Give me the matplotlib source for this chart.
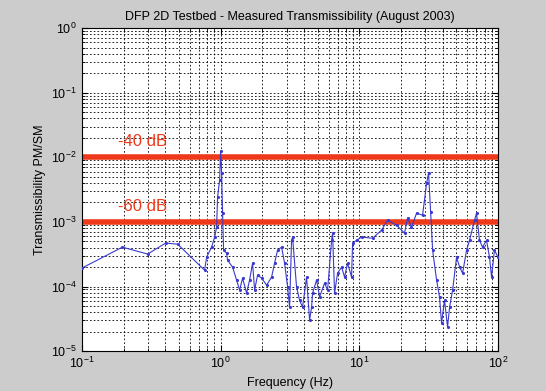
import matplotlib
matplotlib.use("Agg")
import matplotlib.pyplot as plt
from matplotlib.ticker import LogLocator, NullFormatter

plt.rcParams['font.family'] = ['Liberation Sans', 'DejaVu Sans']

title = "DFP 2D Testbed - Measured Transmissibility (August 2003)"
xlabel = "Frequency (Hz)"
ylabel = "Transmissibility PM/SM"

freq = [0.10, 0.196, 0.298, 0.401, 0.490, 0.767, 0.793, 0.861, 0.906, 0.936,
        0.951, 0.984, 1.0, 1.017, 1.034, 1.051, 1.105,
        1.123, 1.220, 1.304, 1.371, 1.441, 1.540, 1.619, 1.701, 1.759, 1.848,
        1.975, 2.147, 2.332, 2.451, 2.576, 2.754, 2.894, 3.042, 3.144, 3.250,
        3.304, 3.531, 3.711, 3.901, 4.169, 4.383, 4.530, 4.606, 4.922, 5.174,
        5.622, 5.909, 6.316, 6.421, 6.635, 6.975, 7.455, 7.834, 8.235, 8.800,
        8.948, 9.561, 10.39, 12.5, 14.5, 16.0, 18.6, 21.2, 22.3, 23.8,
        25.9, 28.6, 30.6, 31.6, 32.7, 33.8, 36.1, 37.9, 39.2, 41.2,
        43.3, 44.8, 47.1, 50.3, 52.9, 55.6, 59.4, 62.4, 67.8, 70.1,
        73.6, 77.4, 82.7, 86.9, 89.9, 94.4, 100.0]
trans = [1.93e-4, 4.07e-4, 3.18e-4, 4.70e-4, 4.53e-4, 1.79e-4, 2.85e-4, 4.07e-4, 5.82e-4, 8.32e-4,
         2.42e-3, 4.44e-3, 1.25e-2, 5.69e-3, 1.37e-3, 3.66e-4, 3.29e-4,
         2.56e-4, 2.00e-4, 1.26e-4, 8.8e-5, 1.35e-4, 7.9e-5, 1.26e-4, 2.30e-4, 8.8e-5, 1.50e-4,
         1.35e-4, 1.05e-4, 1.40e-4, 2.30e-4, 3.66e-4, 4.07e-4, 2.30e-4, 9.8e-5, 4.8e-5, 5.2e-4,
         5.82e-4, 9.8e-5, 6.15e-5, 4.8e-5, 1.40e-4, 3.0e-5, 4.8e-5, 7.9e-5, 1.26e-4, 6.9e-5,
         1.13e-4, 8.8e-5, 5.2e-4, 6.7e-4, 7.9e-5, 1.61e-4, 2.00e-4, 1.40e-4, 2.30e-4, 1.40e-4,
         4.70e-4, 5.2e-4, 5.82e-4, 5.6e-4, 7.5e-4, 1.07e-3, 8.9e-4, 6.7e-4, 1.15e-3, 8.3e-4,
         1.37e-3, 1.27e-3, 3.99e-3, 5.7e-3, 1.42e-3, 3.66e-4, 1.26e-4, 6.9e-5, 2.71e-5, 6.15e-5,
         2.35e-5, 4.8e-5, 8.8e-5, 2.85e-4, 2.00e-4, 1.61e-4, 3.66e-4, 5.2e-4, 1.07e-3, 1.37e-3,
         5.2e-4, 4.07e-4, 5.2e-4, 2.85e-4, 1.40e-4, 3.66e-4, 2.85e-4]

limit_levels = [1e-2, 1e-3]
limit_labels = ["-40 dB", "-60 dB"]
limit_label_y = [1.78e-2, 1.76e-3]

fig = plt.figure(figsize=(5.46, 3.91), dpi=100, facecolor='#cccccc')
ax = fig.add_axes([0.150, 0.102, 0.762, 0.826])
ax.set_facecolor('white')

ax.set_xscale('log')
ax.set_yscale('log')
ax.set_xlim(0.1, 100)
ax.set_ylim(1e-5, 1)

ax.plot(freq, trans, color='#3a3ad0', lw=0.8, marker='.', ms=2.5, zorder=3)

for lvl, lab, ly in zip(limit_levels, limit_labels, limit_label_y):
    ax.axhline(lvl, color='#ee3a1a', lw=4, zorder=2.5)
    ax.text(0.181, ly, lab, color='#ee3a1a', fontsize=12, ha='left', va='center', zorder=5)

ax.xaxis.set_major_locator(LogLocator(base=10, numticks=10))
ax.xaxis.set_minor_locator(LogLocator(base=10, subs=range(2, 10), numticks=20))
ax.yaxis.set_major_locator(LogLocator(base=10, numticks=10))
ax.yaxis.set_minor_locator(LogLocator(base=10, subs=range(2, 10), numticks=20))
ax.xaxis.set_minor_formatter(NullFormatter())
ax.yaxis.set_minor_formatter(NullFormatter())

ax.grid(True, which='both', color='black', linestyle=(0, (2, 2.5)), lw=0.6, zorder=1)
ax.tick_params(which='both', direction='in', labelsize=9, top=True, right=True)
ax.tick_params(which='major', length=4)
ax.tick_params(which='minor', length=2)

ax.set_title(title, fontsize=9, pad=6)
ax.set_xlabel(xlabel, fontsize=9)
ax.set_ylabel(ylabel, fontsize=9)

fig.savefig('out.png', dpi=100, facecolor=fig.get_facecolor())
